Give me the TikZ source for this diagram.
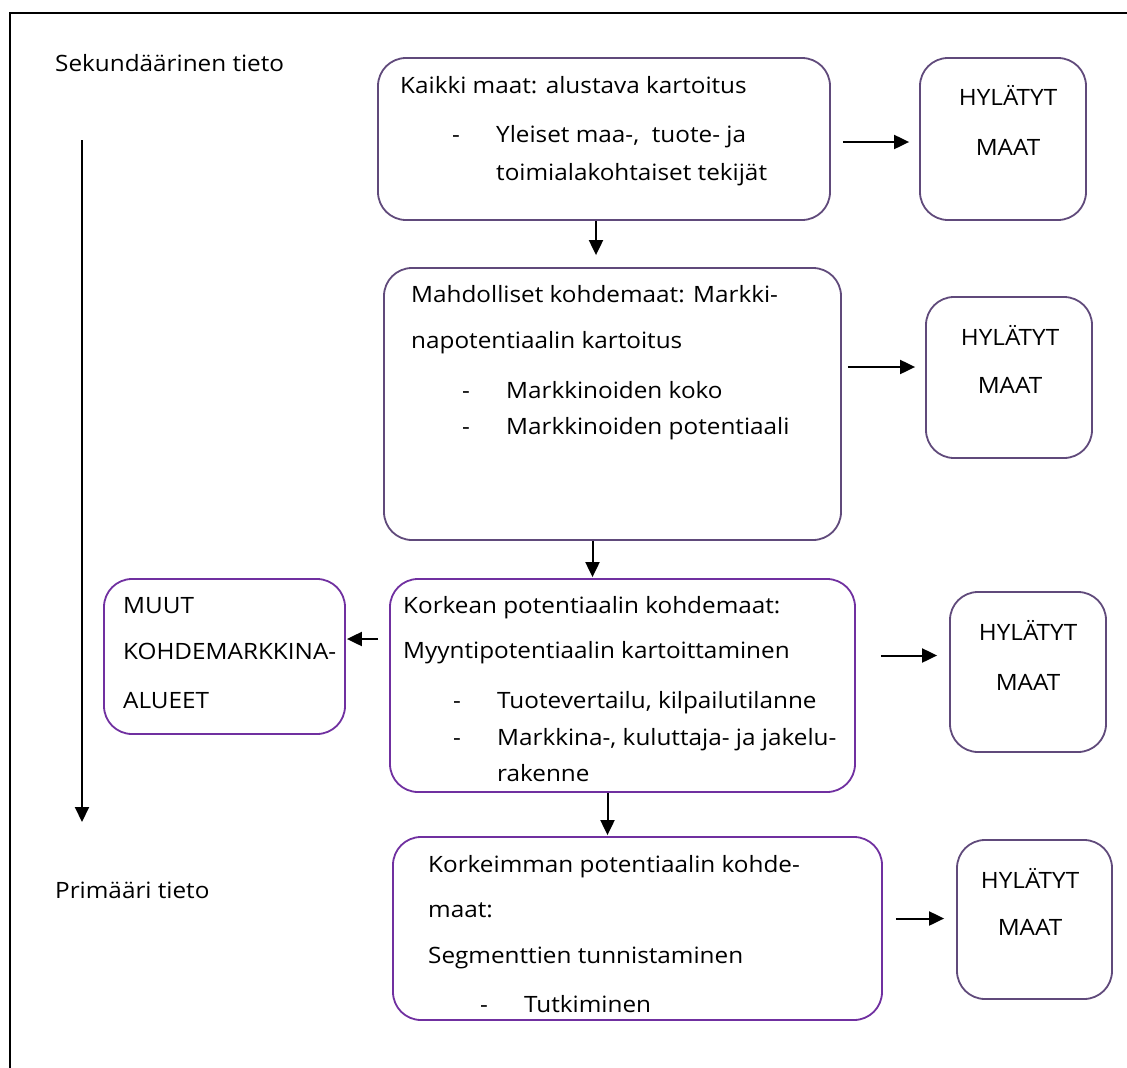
\documentclass[tikz,border=0pt]{standalone}
\usepackage{fontspec}
\setmainfont[FakeStretch=1.08]{Open Sans}
\usetikzlibrary{arrows.meta,positioning,calc}
\definecolor{boxpurple}{RGB}{96,74,123}
\definecolor{hotpurple}{RGB}{112,48,160}
\tikzset{
  >={Triangle[length=15pt,width=14pt]},
  every node/.append style={font=\fontsize{22.5}{27}\selectfont},
}
\tikzset{
  box/.style={draw=boxpurple, line width=1.8pt, rounded corners=28pt, inner sep=0pt},
  hotbox/.style={box, draw=hotpurple},
  txt/.style={anchor=base west, inner sep=0pt},
  mid/.style={anchor=base, inner sep=0pt},
  arrow/.style={->, line width=2pt}
}
\newcommand{\dash}{\makebox[44pt][l]{-}}

\begin{document}
\begin{tikzpicture}[x=1pt, y=-1pt]
\useasboundingbox (0,0) rectangle (1127,1068);
\clip (0,0) rectangle (1127,1068);

% outer frame
\draw[line width=2pt] (10,13) rectangle (1150,1090);

% ============= information axis =============
\node[txt] (sek) at (55,71) {Sekundäärinen tieto};
\node[txt] (prim) at (55,898) {Primääri tieto};
\coordinate (infotop) at (82,140);
\coordinate (infobottom) at (82,822);
\draw[arrow] (infotop) -- (infobottom);

% ============= Boxes =============
\node[box, minimum width=452pt, minimum height=162pt] (kaikki) at (604,139) {};
\node[box, minimum width=457pt, minimum height=272pt] (mahd) at (612.5,404) {};
\node[hotbox, minimum width=465pt, minimum height=213pt] (korkean) at (622.5,685.5) {};
\node[hotbox, minimum width=489pt, minimum height=183pt] (korkein) at (637.5,928.5) {};
\node[hotbox, minimum width=241pt, minimum height=155pt] (muut) at (224.5,656.5) {};

\node[box, minimum width=166pt, minimum height=162pt] (hyl1) at (1003,139) {};
\node[box, minimum width=166pt, minimum height=161pt] (hyl2) at (1009,377.5) {};
\node[box, minimum width=156pt, minimum height=160pt] (hyl3) at (1028,672) {};
\node[box, minimum width=155pt, minimum height=159pt] (hyl4) at (1034.5,919.5) {};

% ============= Texts =============
\node[txt] (k1) at (400,93) {Kaikki maat: alustava kartoitus};
\node[txt] (k2) at (452,142) {\dash Yleiset maa-,~ tuote- ja};
\node[txt] (k3) at (496,180) {toimialakohtaiset tekijät};

\node[txt] (m1) at (411,302) {Mahdolliset kohdemaat: Markki-};
\node[txt] (m2) at (411,348) {napotentiaalin kartoitus};
\node[txt] (m3) at (462,398) {\dash Markkinoiden koko};
\node[txt] (m4) at (462,434) {\dash Markkinoiden potentiaali};

\node[txt] (o1) at (403,613) {Korkean potentiaalin kohdemaat:};
\node[txt] (o2) at (403,658) {Myyntipotentiaalin kartoittaminen};
\node[txt] (o3) at (453,708) {\dash Tuotevertailu, kilpailutilanne};
\node[txt] (o4) at (453,745) {\dash Markkina-, kuluttaja- ja jakelu-};
\node[txt] (o5) at (497,781) {rakenne};

\node[txt] (h1) at (428,872) {Korkeimman potentiaalin kohde-};
\node[txt] (h2) at (428,917) {maat:};
\node[txt] (h3) at (428,963) {Segmenttien tunnistaminen};
\node[txt] (h4) at (480,1012) {\dash Tutkiminen};

\node[txt] (u1) at (123,613) {MUUT};
\node[txt] (u2) at (123,659) {KOHDEMARKKINA-};
\node[txt] (u3) at (123,708) {ALUEET};

\node[mid] (y1a) at (1008,105) {HYLÄTYT};
\node[mid] (y1b) at (1008,155) {MAAT};
\node[mid] (y2a) at (1010,345) {HYLÄTYT};
\node[mid] (y2b) at (1010,393) {MAAT};
\node[mid] (y3a) at (1028,640) {HYLÄTYT};
\node[mid] (y3b) at (1028,690) {MAAT};
\node[mid] (y4a) at (1030,888) {HYLÄTYT};
\node[mid] (y4b) at (1030,935) {MAAT};

% ============= Arrows =============
\draw[arrow, shorten <=12pt, shorten >=10pt] ([yshift=-3pt]kaikki.east) -- ([yshift=-3pt]kaikki.east -| hyl1.west);
\draw[arrow, shorten <=6pt, shorten >=10pt] ([yshift=37pt]mahd.east) -- ([yshift=37pt]mahd.east -| hyl2.west);
\draw[arrow, shorten <=25pt, shorten >=12pt] ([yshift=30pt]korkean.east) -- ([yshift=30pt]korkean.east -| hyl3.west);
\draw[arrow, shorten <=13pt, shorten >=12pt] ([yshift=10pt]korkein.east) -- ([yshift=10pt]korkein.east -| hyl4.west);
\draw[arrow, shorten <=11pt, shorten >=1pt] ([yshift=46.5pt]korkean.west) -- ([yshift=46.5pt]korkean.west -| muut.east);

\draw[arrow, shorten >=12pt] ([xshift=-8pt]kaikki.south) -- ([xshift=-8pt]kaikki.south |- mahd.north);
\draw[arrow, shorten >=1pt] ([xshift=-20pt]mahd.south) -- ([xshift=-20pt]mahd.south |- korkean.north);
\draw[arrow, shorten >=1pt] ([xshift=-15pt]korkean.south) -- ([xshift=-15pt]korkean.south |- korkein.north);

\end{tikzpicture}
\end{document}
